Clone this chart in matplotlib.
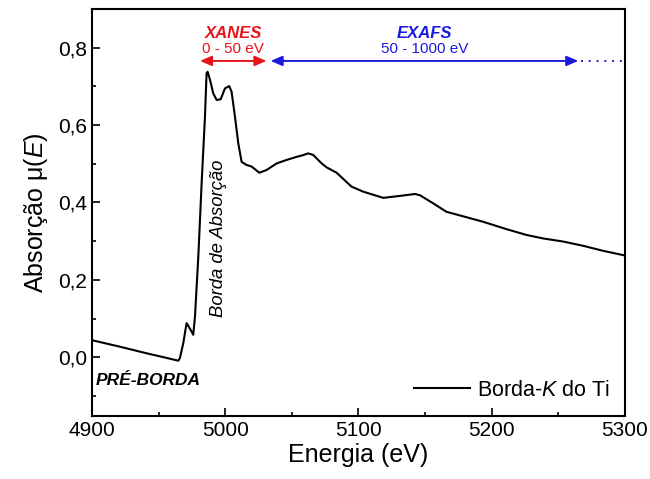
import matplotlib
matplotlib.use("Agg")
import matplotlib.pyplot as plt
from matplotlib.ticker import FuncFormatter, MultipleLocator

plt.rcParams['font.family'] = ['Liberation Sans', 'DejaVu Sans']
plt.rcParams['mathtext.fontset'] = 'custom'
plt.rcParams['mathtext.rm'] = 'Liberation Sans'
plt.rcParams['mathtext.it'] = 'Liberation Sans:italic'

# Ti K-edge spectrum
energy = [4900, 4920, 4940, 4955, 4964.8, 4966, 4968.5, 4971, 4972.5, 4974.8, 4976,
          4977.3, 4979.8, 4982.3, 4984.8, 4986, 4986.8, 4988.6, 4991, 4993.6, 4996.6,
          4999.8, 5003, 5004.8, 5007.3, 5009.8, 5012.3, 5016, 5019.8, 5025.6, 5031,
          5038.6, 5046, 5053.6, 5058, 5062.3, 5066, 5072.4, 5076, 5083.6, 5094.8,
          5103.6, 5118.6, 5131, 5142.4, 5146, 5156, 5166, 5181, 5193.7, 5211.2,
          5226.2, 5238.7, 5253.7, 5268.7, 5283.7, 5300]
absorb = [0.044, 0.028, 0.011, -0.001, -0.009, -0.002, 0.036, 0.088, 0.080, 0.066, 0.058,
          0.105, 0.260, 0.450, 0.622, 0.734, 0.738, 0.717, 0.682, 0.665, 0.667,
          0.695, 0.701, 0.686, 0.622, 0.553, 0.505, 0.497, 0.493, 0.477, 0.484,
          0.501, 0.510, 0.518, 0.522, 0.527, 0.523, 0.501, 0.491, 0.477, 0.441,
          0.428, 0.412, 0.417, 0.422, 0.419, 0.398, 0.376, 0.362, 0.350, 0.331,
          0.316, 0.307, 0.299, 0.288, 0.275, 0.263]

xanes_range = (4981, 5031)
exafs_range = (5034, 5265)
exafs_tail = (5267, 5298)
arrow_level = 0.766

yticks = [0.0, 0.2, 0.4, 0.6, 0.8]

fig = plt.figure(figsize=(6.5, 4.79), dpi=100)
ax = fig.add_axes([0.1415, 0.1315, 0.82, 0.8495])

ax.plot(energy, absorb, color='black', lw=1.5, label='Borda-$K$ do Ti')

ax.set_xlim(4900, 5300)
ax.set_ylim(-0.152, 0.9)
ax.set_yticks(yticks)
ax.xaxis.set_major_locator(MultipleLocator(100))
ax.xaxis.set_minor_locator(MultipleLocator(50))
ax.yaxis.set_minor_locator(MultipleLocator(0.1))
ax.yaxis.set_major_formatter(FuncFormatter(lambda v, p: f'{v:.1f}'.replace('.', ',')))
ax.tick_params(which='both', direction='in', labelsize=15, width=1.2)
ax.tick_params(which='major', length=6)
ax.tick_params(which='minor', length=3)
for s in ax.spines.values():
    s.set_linewidth(1.5)

ax.set_xlabel('Energia (eV)', fontsize=18, labelpad=2)
ax.set_ylabel('Absorção μ($E$)', fontsize=18, labelpad=6)

# XANES / EXAFS ranges
red = '#e8141b'
blue = '#1a1adf'
ax.annotate('', xy=(xanes_range[0], arrow_level), xytext=(xanes_range[1], arrow_level),
            arrowprops=dict(arrowstyle='<|-|>,head_length=0.7,head_width=0.3',
                            color=red, lw=1.4, shrinkA=0, shrinkB=0))
ax.annotate('', xy=(exafs_range[0], arrow_level), xytext=(exafs_range[1], arrow_level),
            arrowprops=dict(arrowstyle='<|-|>,head_length=0.7,head_width=0.3',
                            color=blue, lw=1.4, shrinkA=0, shrinkB=0))
ax.plot(exafs_tail, [arrow_level, arrow_level], color=blue, lw=1.4, ls=(0, (1, 3)))

xc = sum(xanes_range) / 2
ec = sum(exafs_range) / 2
ax.text(xc, 0.838, 'XANES', color=red, fontsize=12, fontweight='bold',
        fontstyle='italic', ha='center', va='center')
ax.text(xc, 0.797, '0 - 50 eV', color=red, fontsize=11, ha='center', va='center')
ax.text(ec, 0.838, 'EXAFS', color=blue, fontsize=12, fontweight='bold',
        fontstyle='italic', ha='center', va='center')
ax.text(ec, 0.797, '50 - 1000 eV', color=blue, fontsize=11, ha='center', va='center')

ax.text(4995, 0.308, 'Borda de Absorção', rotation=90, fontsize=13.3,
        fontstyle='italic', ha='center', va='center')
ax.text(4903, -0.059, 'PRÉ-BORDA', fontsize=12.5, fontweight='bold',
        fontstyle='italic', ha='left', va='center')

ax.legend(loc='lower right', frameon=False, fontsize=15.5, handlelength=2.6,
          handletextpad=0.3, borderaxespad=0.3)

fig.savefig('out.png', dpi=100)
